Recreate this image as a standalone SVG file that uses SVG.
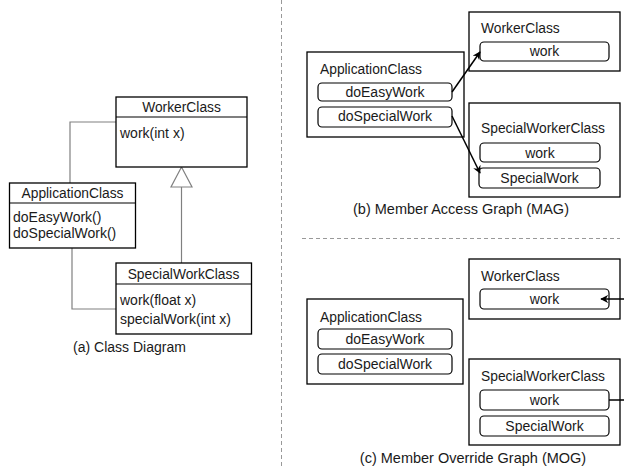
<svg xmlns="http://www.w3.org/2000/svg" width="624" height="468" viewBox="0 0 624 468">
<style>
text{font-family:"Liberation Sans",Arial,sans-serif;fill:#1a1a1a}
.t{font-size:13.8px}
.m{font-size:14px}
.c{font-size:14.5px;text-anchor:middle}
.mid{text-anchor:middle}
.box{fill:#fff;stroke:#000;stroke-width:1.3}
.pill{fill:#fff;stroke:#000;stroke-width:1.2}
.uml{fill:none;stroke:#808080;stroke-width:1.2}
.arr{fill:none;stroke:#000;stroke-width:1.5}
.dash{stroke:#999;stroke-width:1;stroke-dasharray:4 3}
</style>
<defs>
<marker id="ah" viewBox="0 0 10 10" refX="9" refY="5" markerWidth="8" markerHeight="8" markerUnits="userSpaceOnUse" orient="auto">
<path d="M0,0 L10,5 L0,10 L3,5 z" fill="#000"/>
</marker>
</defs>
<rect width="624" height="468" fill="#fff"/>

<g id="separators">
<line class="dash" x1="281.5" y1="0" x2="281.5" y2="468"/>
<line class="dash" x1="302" y1="238.5" x2="620" y2="238.5"/>
</g>

<!-- (a) Class Diagram -->
<g id="connectors-a">
<polyline class="uml" points="116,122 70,122 70,183"/>
<polyline class="uml" points="72,248 72,309 116,309"/>
<line class="uml" x1="181.5" y1="187" x2="181.5" y2="263"/>
<polygon points="181.5,167 171,187 192,187" fill="#fff" stroke="#808080" stroke-width="1.2"/>
</g>
<g id="a-WorkerClass">
<rect class="box" x="116" y="97" width="131" height="70"/>
<line stroke="#000" stroke-width="1.2" x1="116" y1="117" x2="247" y2="117"/>
<text class="t mid" x="181.5" y="112">WorkerClass</text>
<text class="m" x="120" y="138">work(int x)</text>
</g>
<g id="a-ApplicationClass">
<rect class="box" x="9.5" y="183" width="126" height="65"/>
<line stroke="#000" stroke-width="1.2" x1="9.5" y1="203" x2="135.5" y2="203"/>
<text class="t mid" x="72.5" y="198">ApplicationClass</text>
<text class="m" x="13" y="222">doEasyWork()</text>
<text class="m" x="13" y="238">doSpecialWork()</text>
</g>
<g id="a-SpecialWorkClass">
<rect class="box" x="116" y="263" width="135.5" height="71"/>
<line stroke="#000" stroke-width="1.2" x1="116" y1="284" x2="251.5" y2="284"/>
<text class="t mid" x="183.5" y="279">SpecialWorkClass</text>
<text class="m" x="120" y="305">work(float x)</text>
<text class="m" x="120" y="324">specialWork(int x)</text>
</g>
<text class="c" x="129.5" y="352" style="font-size:14px">(a) Class Diagram</text>

<!-- (b) MAG -->
<g id="b-ApplicationClass">
<rect class="box" x="307" y="52" width="157" height="85"/>
<text class="t" x="320" y="74">ApplicationClass</text>
<rect class="pill" x="318" y="83" width="134" height="18" rx="4"/>
<text class="m mid" x="385" y="97">doEasyWork</text>
<rect class="pill" x="318" y="107" width="134" height="20" rx="4"/>
<text class="m mid" x="385" y="121">doSpecialWork</text>
</g>
<g id="b-WorkerClass">
<rect class="box" x="469" y="12" width="151" height="59"/>
<text class="t" x="481" y="33">WorkerClass</text>
<rect class="pill" x="480" y="42" width="129" height="19" rx="4"/>
<text class="m mid" x="544.5" y="56">work</text>
</g>
<g id="b-SpecialWorkerClass">
<rect class="box" x="469" y="103" width="151" height="94"/>
<text class="t" x="481" y="133">SpecialWorkerClass</text>
<rect class="pill" x="480" y="143" width="120" height="19" rx="4"/>
<text class="m mid" x="540" y="157.5">work</text>
<rect class="pill" x="479" y="168" width="121" height="20" rx="4"/>
<text class="m mid" x="539.5" y="183">SpecialWork</text>
</g>
<g id="connectors-b">
<line class="arr" x1="452" y1="92" x2="480" y2="52" marker-end="url(#ah)"/>
<line class="arr" x1="452" y1="116" x2="480" y2="173" marker-end="url(#ah)"/>
</g>
<text class="c" x="461" y="214">(b) Member Access Graph (MAG)</text>

<!-- (c) MOG -->
<g id="c-WorkerClass">
<rect class="box" x="469" y="259" width="151" height="60"/>
<text class="t" x="481" y="281">WorkerClass</text>
<rect class="pill" x="480" y="289" width="129" height="20" rx="4"/>
<text class="m mid" x="544.5" y="304">work</text>
</g>
<g id="c-ApplicationClass">
<rect class="box" x="307" y="299" width="156" height="85"/>
<text class="t" x="320" y="322">ApplicationClass</text>
<rect class="pill" x="318" y="329" width="134" height="20" rx="4"/>
<text class="m mid" x="385" y="344">doEasyWork</text>
<rect class="pill" x="318" y="354" width="134" height="20" rx="4"/>
<text class="m mid" x="385" y="369">doSpecialWork</text>
</g>
<g id="c-SpecialWorkerClass">
<rect class="box" x="469" y="359" width="151" height="86"/>
<text class="t" x="481" y="381">SpecialWorkerClass</text>
<rect class="pill" x="480" y="390" width="129" height="20" rx="4"/>
<text class="m mid" x="544.5" y="405">work</text>
<rect class="pill" x="480" y="416" width="129" height="20" rx="4"/>
<text class="m mid" x="544.5" y="431">SpecialWork</text>
</g>
<g id="connectors-c">
<line class="arr" x1="626" y1="299" x2="601" y2="299" marker-end="url(#ah)"/>
<line class="arr" x1="609" y1="400" x2="626" y2="400"/>
</g>
<text class="c" x="473" y="463">(c) Member Override Graph (MOG)</text>
</svg>
